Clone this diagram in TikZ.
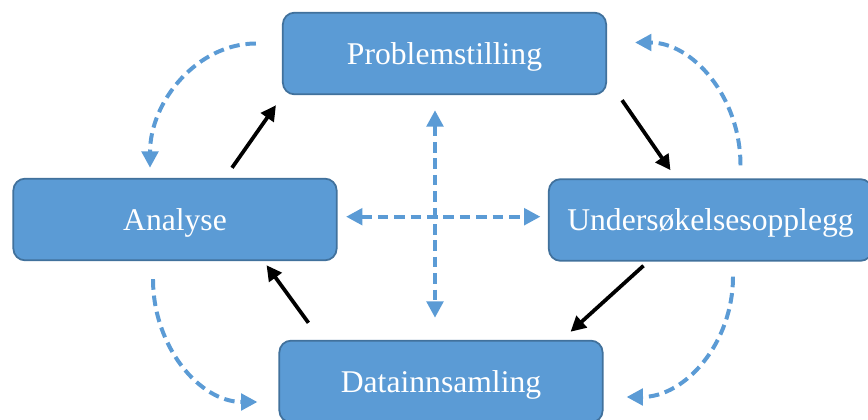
\documentclass[tikz,border=0pt]{standalone}
\usepackage{fontspec}
\setmainfont{Liberation Serif}
\usetikzlibrary{arrows.meta,calc}
\definecolor{boxblue}{HTML}{5B9BD5}
\definecolor{boxedge}{HTML}{41719C}

\tikzset{
  stage/.style={draw=boxedge, line width=1.5pt, fill=boxblue, rounded corners=10pt,
    minimum width=9.7cm, minimum height=2.45cm, text=white,
    text height=24pt, text depth=5.4pt,
    font=\fontsize{27}{32}\selectfont},
  blacktip/.tip={Triangle[length=13pt,width=13pt]},
  bluetip/.tip={Triangle[length=14pt,width=14pt]},
  flow/.style={line width=3.2pt, -blacktip},
  backflow/.style={boxblue, line width=3.4pt, dash pattern=on 9pt off 5pt, -bluetip},
}

\begin{document}
\begin{tikzpicture}[x=0.3mm, y=-0.3mm]
    \clip (0,0) rectangle (868,420);
    % the four stages
    \node[stage] (prob) at (444.5,53.5) {Problemstilling};
    \node[stage] (und) at (710.5,220) {Undersøkelsesopplegg};
    \node[stage] (data) at (441,381.5) {Datainnsamling};
    \node[stage] (ana) at (175,219.5) {Analyse};
    % main cycle
    \draw[flow] ($(ana.north)+(57,-10)$) -- ($(prob.south west)+(-6,10)$);
    \draw[flow] ($(prob.south east)+(15,5)$) -- ($(und.north)+(-40,-8)$);
    \draw[flow] ($(und.south)+(-67,4)$) -- ($(data.north east)+(-33,-8)$);
    \draw[flow] ($(data.north west)+(30,-17)$) -- ($(ana.south east)+(-71,4)$);
    % going back
    \draw[backflow] ($(prob.west)+(-26,-10)$) .. controls +(-58,0) and +(0,-67) .. ($(ana.north)+(-25,-10)$);
    \draw[backflow] ($(und.north)+(30,-13)$) .. controls +(0,-69) and +(57,0) .. ($(prob.east)+(28,-11)$);
    \draw[backflow] ($(und.south)+(22.5,15)$) .. controls +(0,66) and +(59,0) .. ($(data.east)+(23,15.5)$);
    \draw[backflow] ($(ana.south)+(-22,18)$) .. controls +(0,67) and +(-58,0) .. ($(data.west)+(-21,20.5)$);
    % cross in the middle
    \draw[backflow, bluetip-bluetip] ($(prob.south)+(-9.5,15)$) -- ($(data.north)+(-6,-22)$);
    \draw[backflow, bluetip-bluetip] ($(ana.east)+(8.5,-2.8)$) -- ($(und.west)+(-7.5,-3.3)$);
\end{tikzpicture}
\end{document}
